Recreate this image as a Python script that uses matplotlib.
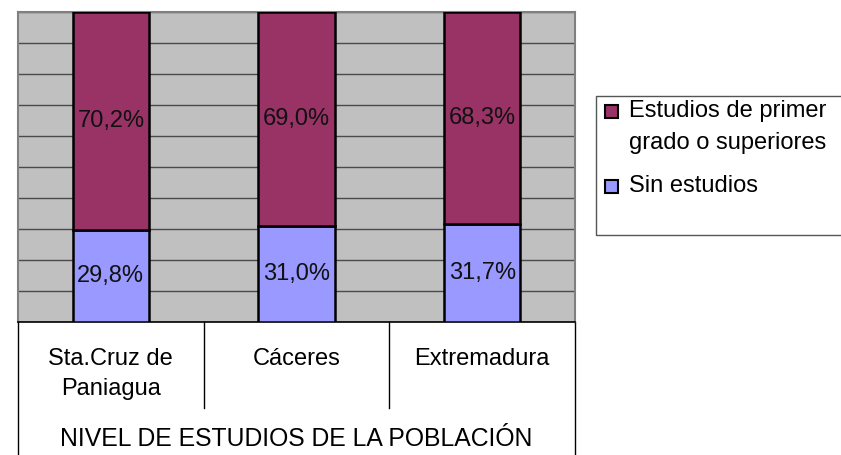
import matplotlib
matplotlib.use("Agg")
import matplotlib.pyplot as plt
from matplotlib.patches import Rectangle
from matplotlib.lines import Line2D

categories = ["Sta.Cruz de\nPaniagua", "Cáceres", "Extremadura"]
sin_estudios = [29.8, 31.0, 31.7]
primer_grado = [70.2, 69.0, 68.3]
series_names = ["Estudios de primer\ngrado o superiores", "Sin estudios"]
axis_title = "NIVEL DE ESTUDIOS DE LA POBLACIÓN"

c_top = "#993366"
c_bot = "#9999FF"

plt.rcParams["font.family"] = ["Liberation Sans", "DejaVu Sans"]
FS = 17

W, H = 841, 455
fig = plt.figure(figsize=(W / 100, H / 100), dpi=100)
L, R, T, B = 18, 575, 12, 322
ax = fig.add_axes([L / W, 1 - B / H, (R - L) / W, (B - T) / H])
ax.set_facecolor("#C0C0C0")
x = list(range(len(categories)))
ax.set_xlim(-0.5, len(categories) - 0.5)
ax.set_ylim(0, 100)
ax.set_yticks(range(0, 101, 10))
ax.yaxis.grid(True, color="#4a4a4a", linewidth=1)
ax.set_axisbelow(True)
ax.tick_params(left=False, bottom=False, labelleft=False, labelbottom=False)
for s in ["top", "left", "right"]:
    ax.spines[s].set_color("#808080")
    ax.spines[s].set_linewidth(1.5)
ax.spines["bottom"].set_color("black")
ax.spines["bottom"].set_linewidth(1.2)

bw = 0.41
ax.bar(x, sin_estudios, width=bw, color=c_bot, edgecolor="black", linewidth=1.8, zorder=3)
ax.bar(x, primer_grado, width=bw, bottom=sin_estudios, color=c_top, edgecolor="black", linewidth=1.8, zorder=3)

def fmt(v):
    return f"{v:.1f}%".replace(".", ",")

for i in x:
    ax.text(i, sin_estudios[i] / 2, fmt(sin_estudios[i]), ha="center", va="center", fontsize=FS, color="#111111", zorder=4)
    ax.text(i, sin_estudios[i] + primer_grado[i] / 2, fmt(primer_grado[i]), ha="center", va="center", fontsize=FS, color="#111111", zorder=4)

# category table below the plot area
tr = ax.get_xaxis_transform()
ph = B - T
sep_depth = (408 - B) / ph
full_depth = (H - B + 5) / ph
for xs in [0.5, 1.5]:
    ax.add_line(Line2D([xs, xs], [0, -sep_depth], transform=tr, color="black", linewidth=1, clip_on=False))
for xs in [-0.5, 2.5]:
    ax.add_line(Line2D([xs, xs], [0, -full_depth], transform=tr, color="black", linewidth=1, clip_on=False))
for i, c in enumerate(categories):
    ax.text(i, -(348 - B) / ph, c, transform=tr, ha="center", va="top", fontsize=FS, linespacing=1.45)
ax.text(1, -(439 - B) / ph, axis_title, transform=tr, ha="center", va="center", fontsize=17.8)

# legend
fig.patches.append(Rectangle((596 / W, 1 - 235 / H), (W - 596 + 10) / W, (235 - 96) / H,
                             transform=fig.transFigure, facecolor="white", edgecolor="#555555", linewidth=1))
colors = [c_top, c_bot]
ys = [111, 186]
for nm, col, yc in zip(series_names, colors, ys):
    fig.patches.append(Rectangle((605 / W, 1 - (yc + 6.5) / H), 13 / W, 13 / H, transform=fig.transFigure,
                                 facecolor=col, edgecolor="black", linewidth=1.5))
    lines = nm.split("\n")
    for k, ln in enumerate(lines):
        fig.text(629 / W, 1 - (yc + 32 * k) / H, ln, ha="left", va="center", fontsize=FS)

fig.savefig("out.png", dpi=100)
